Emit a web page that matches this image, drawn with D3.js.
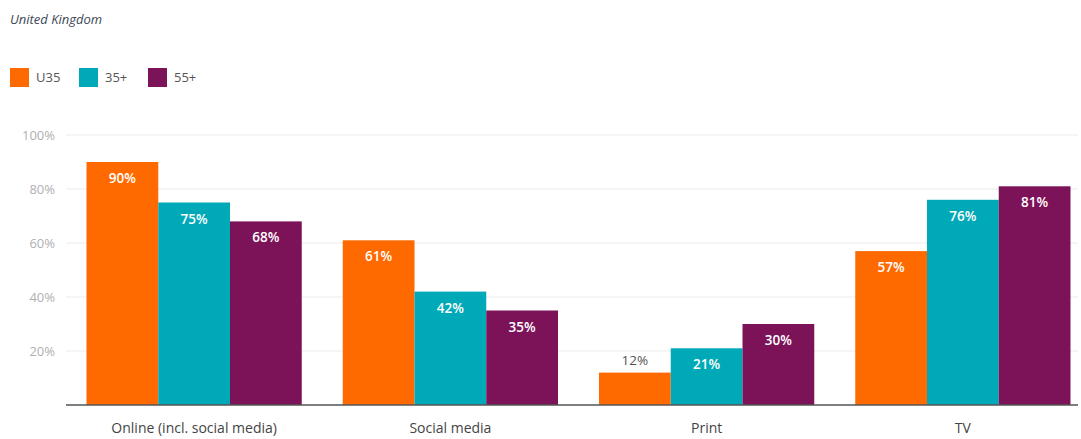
<!DOCTYPE html>
<html>
<head>
<meta charset="utf-8">
<script src="https://cdn.jsdelivr.net/npm/d3@7"></script>
<style>
  body { margin: 0; background: #fff; font-family: "Open Sans", sans-serif; }
</style>
</head>
<body>
<div id="chart"></div>
<script>
// データ
const categories = ['Online (incl. social media)', 'Social media', 'Print', 'TV'];
const seriesNames = ['U35', '35+', '55+'];
const u35 = [90, 61, 12, 57];
const age35 = [75, 42, 21, 76];
const age55 = [68, 35, 30, 81];
const yTicks = [20, 40, 60, 80, 100];

const colors = { 'U35': '#ff6a00', '35+': '#00a9b7', '55+': '#7c1359' };
const seriesValues = { 'U35': u35, '35+': age35, '55+': age55 };

const width = 1081, height = 439;
const svg = d3.select('#chart').append('svg')
    .attr('width', width)
    .attr('height', height);

// タイトル
svg.append('text')
    .attr('x', 10).attr('y', 24)
    .attr('fill', '#3b4656')
    .style('font-size', '13px')
    .style('font-style', 'italic')
    .text('United Kingdom');

// 凡例
const legendX = [10, 79, 148];
seriesNames.forEach((name, i) => {
    const g = svg.append('g').attr('transform', `translate(${legendX[i]},68)`);
    g.append('rect').attr('width', 19).attr('height', 19).attr('fill', colors[name]);
    g.append('text')
        .attr('x', 26).attr('y', 14)
        .attr('fill', '#555')
        .style('font-size', '13px')
        .text(name);
});

// スケール
const x0 = d3.scaleBand()
    .domain(categories)
    .range([66, 1091])
    .paddingInner(0.16)
    .paddingOuter(0.08);

const x1 = d3.scaleBand()
    .domain(seriesNames)
    .range([0, x0.bandwidth()]);

const y = d3.scaleLinear()
    .domain([0, 100])
    .range([405, 135]);

// グリッド線
svg.selectAll('.grid')
    .data(yTicks)
    .enter()
    .append('line')
    .attr('x1', 66).attr('x2', 1078)
    .attr('y1', d => y(d)).attr('y2', d => y(d))
    .attr('stroke', '#ebebeb')
    .attr('stroke-width', 1);

// Y軸ラベル
svg.selectAll('.ytick')
    .data(yTicks)
    .enter()
    .append('text')
    .attr('x', 55)
    .attr('y', d => y(d) + 5)
    .attr('text-anchor', 'end')
    .attr('fill', '#b0b0b0')
    .style('font-size', '13px')
    .text(d => d + '%');

// 棒
const groups = svg.selectAll('.group')
    .data(categories)
    .enter()
    .append('g')
    .attr('transform', d => `translate(${x0(d)},0)`);

groups.each(function(cat, ci) {
    const g = d3.select(this);
    seriesNames.forEach(name => {
        const v = seriesValues[name][ci];
        g.append('rect')
            .attr('x', x1(name))
            .attr('y', y(v))
            .attr('width', x1.bandwidth())
            .attr('height', y(0) - y(v))
            .attr('fill', colors[name]);

        const inside = (y(0) - y(v)) > 40;
        g.append('text')
            .attr('x', x1(name) + x1.bandwidth() / 2)
            .attr('y', inside ? y(v) + 21 : y(v) - 8)
            .attr('text-anchor', 'middle')
            .attr('fill', inside ? '#fff' : '#555')
            .style('font-size', '13.5px')
            .style('font-weight', inside ? '600' : 'normal')
            .text(v + '%');
    });
});

// X軸
svg.append('line')
    .attr('x1', 66).attr('x2', 1078)
    .attr('y1', 405).attr('y2', 405)
    .attr('stroke', '#555')
    .attr('stroke-width', 1.5);

svg.selectAll('.xlabel')
    .data(categories)
    .enter()
    .append('text')
    .attr('x', d => x0(d) + x0.bandwidth() / 2)
    .attr('y', 433)
    .attr('text-anchor', 'middle')
    .attr('fill', '#444')
    .style('font-size', '14px')
    .text(d => d);
</script>
</body>
</html>
